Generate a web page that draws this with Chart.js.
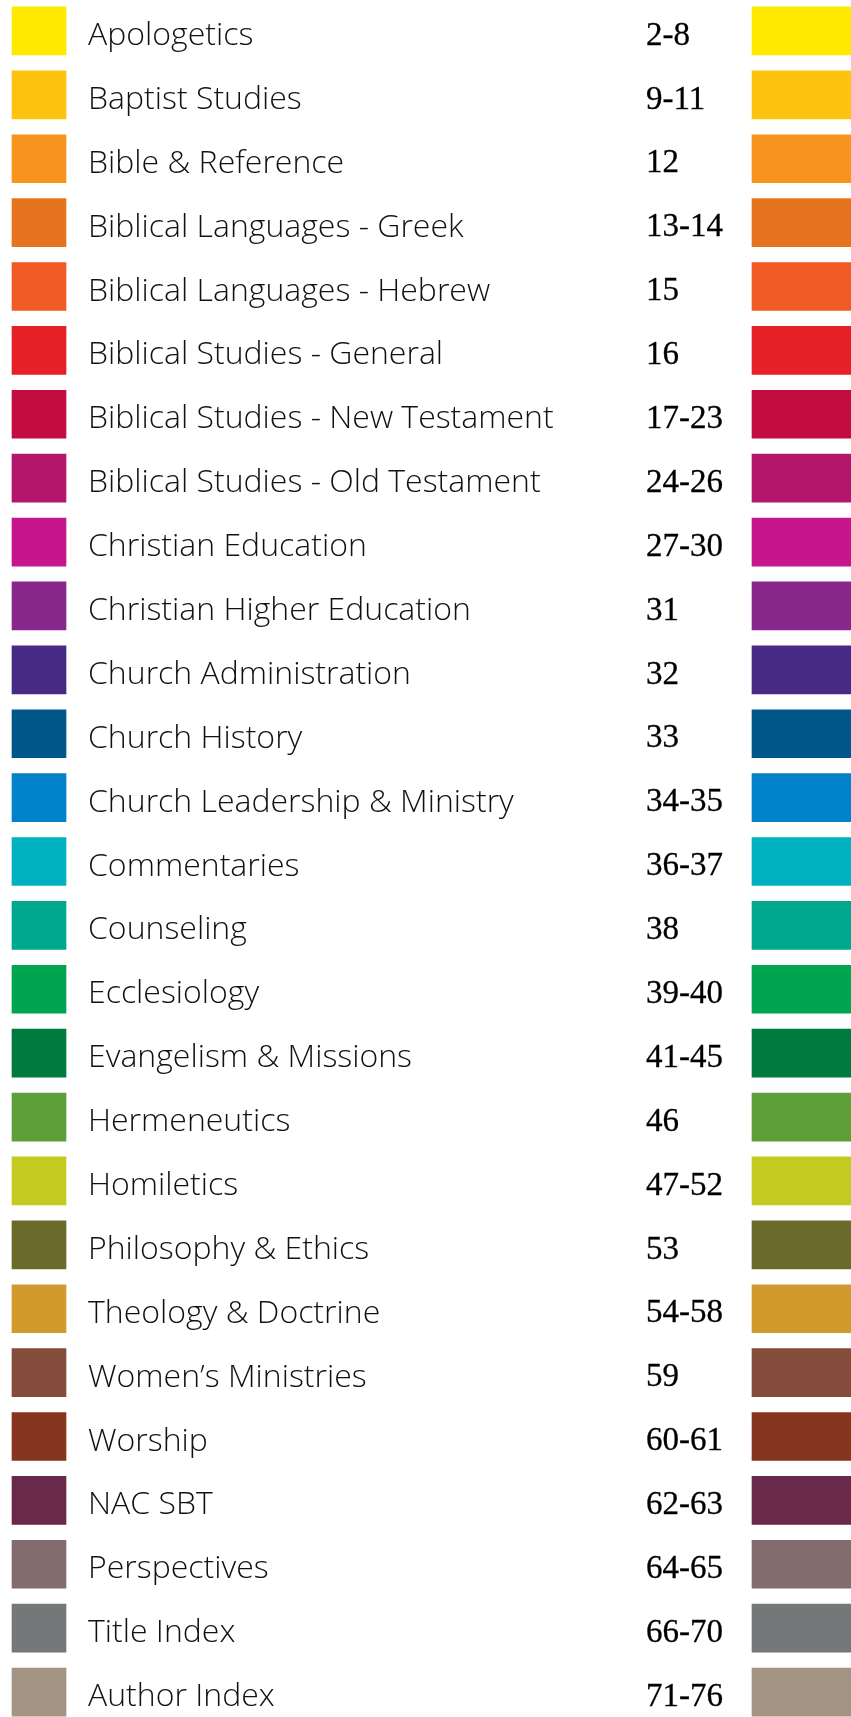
<!DOCTYPE html>
<html>
<head>
<meta charset="utf-8">
<script src="https://cdn.jsdelivr.net/npm/chart.js@4.4.1/dist/chart.umd.min.js"></script>
<style>
  html, body { margin: 0; padding: 0; background: #ffffff; overflow: hidden; }
  #wrap { width: 851px; height: 1717px; overflow: hidden; position: relative; }
  #c { display: block; position: absolute; left: 0; top: -1px; }
</style>
</head>
<body>
<div id="wrap"><canvas id="c" width="851" height="1725"></canvas></div>
<script>
// ---- data ----
const categories = [
  "Apologetics",
  "Baptist Studies",
  "Bible & Reference",
  "Biblical Languages - Greek",
  "Biblical Languages - Hebrew",
  "Biblical Studies - General",
  "Biblical Studies - New Testament",
  "Biblical Studies - Old Testament",
  "Christian Education",
  "Christian Higher Education",
  "Church Administration",
  "Church History",
  "Church Leadership & Ministry",
  "Commentaries",
  "Counseling",
  "Ecclesiology",
  "Evangelism & Missions",
  "Hermeneutics",
  "Homiletics",
  "Philosophy & Ethics",
  "Theology & Doctrine",
  "Women\u2019s Ministries",
  "Worship",
  "NAC SBT",
  "Perspectives",
  "Title Index",
  "Author Index"
];

const pages = [
  "2-8", "9-11", "12", "13-14", "15", "16", "17-23", "24-26", "27-30",
  "31", "32", "33", "34-35", "36-37", "38", "39-40", "41-45", "46",
  "47-52", "53", "54-58", "59", "60-61", "62-63", "64-65", "66-70", "71-76"
];

const colors = [
  "#FFE900", "#FDC30F", "#F7941E", "#E6741F", "#F05A24", "#E52127",
  "#C30D41", "#B3166A", "#C5168C", "#8A278C", "#472A85", "#00578A",
  "#0083CB", "#00B2BF", "#00A88F", "#00A551", "#007A3F", "#5EA038",
  "#C3CB21", "#6B6A2A", "#D19A2C", "#844C3A", "#86361F", "#69294A",
  "#826C6E", "#747878", "#A39383"
];

// ---- layout (pixel-like units on a hidden x scale) ----
const LAYOUT = {
  width: 851,
  leftTab: [12, 66],
  rightTab: [752, 851],
  labelX: 88,
  pageX: 646,
  labelShift: 5,
  pageShift: 5
};

const zeroSize = (scale) => {
  scale.width = 0;
  scale.paddingTop = 0;
  scale.paddingBottom = 0;
};

// nudges the text axes vertically so glyphs sit like the printed list
const textShift = {
  id: 'textShift',
  afterLayout(chart) {
    [['y', LAYOUT.labelShift], ['y2', LAYOUT.pageShift]].forEach(([id, dy]) => {
      const s = chart.scales[id];
      s.top += dy; s.bottom += dy;
      s.configure();
    });
  }
};

new Chart(document.getElementById('c'), {
  type: 'bar',
  data: {
    labels: categories,
    datasets: [
      {
        label: 'Section',
        data: categories.map(() => LAYOUT.leftTab),
        backgroundColor: colors,
        yAxisID: 'rows'
      },
      {
        label: 'Edge tab',
        data: categories.map(() => LAYOUT.rightTab),
        backgroundColor: colors,
        yAxisID: 'rows'
      }
    ]
  },
  plugins: [textShift],
  options: {
    indexAxis: 'y',
    responsive: false,
    animation: false,
    devicePixelRatio: 1,
    layout: { padding: 0 },
    datasets: {
      bar: { grouped: false, barThickness: 48, borderWidth: 0, borderSkipped: false }
    },
    plugins: {
      legend: { display: false },
      tooltip: { enabled: false },
      title: { display: false }
    },
    scales: {
      x: { type: 'linear', min: 0, max: LAYOUT.width, display: false },
      rows: {
        type: 'category',
        axis: 'y',
        position: 'left',
        offset: true,
        display: false
      },
      y: {
        type: 'category',
        labels: categories,
        position: 'left',
        offset: true,
        grid: { display: false, drawTicks: false },
        border: { display: false },
        ticks: {
          mirror: true,
          padding: LAYOUT.labelX,
          color: '#111111',
          font: { family: '"Open Sans"', size: 32, weight: '300' }
        },
        afterFit: zeroSize
      },
      y2: {
        type: 'category',
        labels: pages,
        position: 'left',
        offset: true,
        grid: { display: false, drawTicks: false },
        border: { display: false },
        ticks: {
          mirror: true,
          padding: LAYOUT.pageX,
          color: '#000000',
          textStrokeColor: '#000000',
          textStrokeWidth: 0.3,
          font: { family: '"Liberation Serif"', size: 33, weight: 'normal' }
        },
        afterFit: zeroSize
      }
    }
  }
});
</script>
</body>
</html>
